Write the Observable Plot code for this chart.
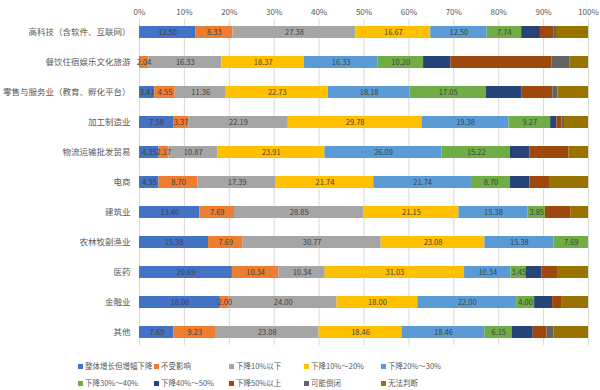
<!DOCTYPE html>
<html>
<head>
<meta charset="utf-8">
<script src="https://cdn.jsdelivr.net/npm/d3@7"></script>
<script src="https://cdn.jsdelivr.net/npm/@observablehq/plot@0.6"></script>
<style>
  body { margin: 0; background: #fff; font-family: "Noto Sans CJK SC", "Noto Sans", sans-serif; }
  #chart { width: 600px; }
  #legend { position: relative; width: 600px; height: 45px; }
  .item { position: absolute; font-size: 7.5px; color: #595959; white-space: nowrap; line-height: 10px; }
  .sw { display: inline-block; width: 5px; height: 5px; margin-right: 2px; vertical-align: 0px; }
</style>
</head>
<body>
<div id="chart"></div>
<div id="legend"></div>
<script>
const categories = ["高科技（含软件、互联网）", "餐饮住宿娱乐文化旅游", "零售与服务业（教育、孵化平台）", "加工制造业", "物流运输批发贸易", "电商", "建筑业", "农林牧副渔业", "医药", "金融业", "其他"];
const seriesNames = ["整体增长但增幅下降", "不受影响", "下降10%以下", "下降10%～20%", "下降20%～30%", "下降30%～40%", "下降40%～50%", "下降50%以上", "可能倒闭", "无法判断"];
const colors = ["#4472C4", "#ED7D31", "#A5A5A5", "#FFC000", "#5B9BD5", "#70AD47", "#264478", "#9E480E", "#636363", "#997300"];
const xTicks = [0, 10, 20, 30, 40, 50, 60, 70, 80, 90, 100];

const s1 = [12.50, 0, 3.41, 7.58, 4.35, 4.35, 13.46, 15.38, 20.69, 18.00, 7.69];
const s2 = [8.33, 2.04, 4.55, 3.37, 2.17, 8.70, 7.69, 7.69, 10.34, 2.00, 9.23];
const s3 = [27.38, 16.33, 11.36, 22.19, 10.87, 17.39, 28.85, 30.77, 10.34, 24.00, 23.08];
const s4 = [16.67, 18.37, 22.73, 29.78, 23.91, 21.74, 21.15, 23.08, 31.03, 18.00, 18.46];
const s5 = [12.50, 16.33, 18.18, 19.38, 26.09, 21.74, 15.38, 15.38, 10.34, 22.00, 18.46];
const s6 = [7.74, 10.20, 17.05, 9.27, 15.22, 8.70, 3.85, 7.69, 3.45, 4.00, 6.15];
const s7 = [4.17, 6.12, 7.95, 1.40, 4.35, 4.35, 0, 0, 3.45, 4.00, 4.62];
const s8 = [2.98, 22.45, 6.82, 1.12, 8.70, 4.35, 5.77, 0, 3.45, 2.00, 3.08];
const s9 = [0.60, 4.08, 1.14, 0.56, 0, 0, 0, 0, 0, 0, 1.54];
const s10 = [7.14, 4.08, 6.82, 5.34, 4.35, 8.70, 3.85, 0, 6.90, 6.00, 7.69];
const seriesValues = [s1, s2, s3, s4, s5, s6, s7, s8, s9, s10];
const labeledSeries = 6;

const data = seriesValues.flatMap((vals, si) =>
  vals.map((v, ri) => ({ row: categories[ri], series: seriesNames[si], idx: si, value: v }))
);

const font = '"Noto Sans CJK SC", "Noto Sans", sans-serif';

const chart = Plot.plot({
  width: 600,
  height: 345,
  marginTop: 19,
  marginLeft: 139,
  marginRight: 12,
  marginBottom: 0,
  style: { fontFamily: font, fontSize: "8px", color: "#595959", background: "#fff" },
  x: { domain: [0, 100] },
  y: { domain: categories, paddingInner: 0.6, paddingOuter: 0.2 },
  color: { domain: seriesNames, range: colors },
  marks: [
    Plot.gridX(xTicks, { stroke: "#d9d9d9", strokeOpacity: 1 }),
    Plot.barX(data, Plot.stackX({ x: "value", y: "row", fill: "series", order: null })),
    Plot.text(data, Plot.stackX({
      x: "value", y: "row", z: "series", order: null,
      text: d => (d.idx < labeledSeries && d.value > 0) ? d.value.toFixed(2) : "",
      fill: "#404040", fontSize: 7.5
    })),
    Plot.axisX(xTicks, { anchor: "top", tickSize: 0, tickPadding: 5, tickFormat: d => d + "%", label: null, fill: "#595959", fontSize: 8 }),
    Plot.axisY({ tickSize: 0, tickPadding: 9, label: null, fill: "#595959", fontSize: 8.5 })
  ]
});
document.getElementById("chart").appendChild(chart);

const legend = document.getElementById("legend");
const colX = [78, 154, 229, 304, 381];
seriesNames.forEach((name, i) => {
  const el = document.createElement("div");
  el.className = "item";
  el.style.left = colX[i % 5] + "px";
  el.style.top = (i < 5 ? 16 : 33) + "px";
  el.innerHTML = `<span class="sw" style="background:${colors[i]}"></span>${name}`;
  legend.appendChild(el);
});
</script>
</body>
</html>
